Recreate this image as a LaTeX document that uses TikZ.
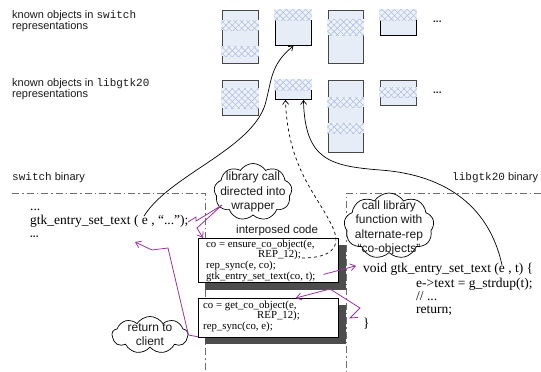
\documentclass[tikz,border=0pt]{standalone}
\usepackage{fontspec}
\setmainfont{Liberation Serif}
\setsansfont{Liberation Sans}
\setmonofont{Liberation Mono}
\usetikzlibrary{shapes.symbols,patterns.meta,arrows.meta}
\definecolor{boxfill}{RGB}{230,237,247}
\definecolor{boxline}{RGB}{70,70,70}
\definecolor{hatchc}{RGB}{175,192,228}
\definecolor{bandfill}{RGB}{238,242,250}
\definecolor{purp}{RGB}{153,51,160}
\definecolor{shadowc}{RGB}{77,77,77}
\definecolor{sepc}{RGB}{110,110,110}
\definecolor{txtc}{RGB}{25,25,25}
\begin{document}
\begin{tikzpicture}[x=1pt,y=-1pt,
 objbox/.style={draw=boxline, fill=boxfill, line width=0.9pt, inner sep=0, anchor=north west, minimum width=36pt},
 band/.style={fill=bandfill,
   postaction={pattern={Lines[angle=45,distance=4.5pt,line width=0.6pt]}, pattern color=hatchc},
   postaction={pattern={Lines[angle=-45,distance=4.5pt,line width=0.6pt]}, pattern color=hatchc}},
 lbl/.style={font=\sffamily\fontsize{11}{12}\selectfont, text=txtc, anchor=base west, inner sep=0},
 codetxt/.style={font=\fontsize{13.5}{15}\selectfont, anchor=base west, inner sep=0},
 smallcode/.style={font=\fontsize{10.8}{11}\selectfont, anchor=base west, inner sep=0},
 cloudshape/.style={cloud, cloud puffs=9, cloud puff arc=115, cloud ignores aspect, draw, fill=white, line width=0.7pt, inner sep=0},
 cloudtxt/.style={font=\sffamily\fontsize{12}{14.3}\selectfont, text=txtc, align=center, inner sep=0},
 sepline/.style={draw=sepc, line width=0.8pt, dash pattern=on 7pt off 3pt on 1.5pt off 3pt},
 codebox/.style={draw, fill=white, line width=0.8pt, anchor=north west, inner sep=0},
 shadowbox/.style={fill=shadowc, anchor=north west, inner sep=0},
 conn/.style={line width=0.7pt, -{Straight Barb[length=4pt,width=6pt]}},
 pline/.style={draw=purp, line width=0.8pt},
 parrow/.style={pline, -{Straight Barb[length=5pt,width=7pt]}},
]
\useasboundingbox (0,0) rectangle (541,372);

% labels
\node[lbl] (l1a) at (12,18) {known objects in \texttt{switch}};
\node[lbl] (l1b) at (12,29) {representations};
\node[lbl] (l2a) at (12,86) {known objects in \texttt{libgtk20}};
\node[lbl] (l2b) at (12,97) {representations};

% object boxes
\node[objbox, minimum height=53pt] (a1) at (222,10) {};
\node[objbox, minimum height=35pt, draw=black] (a2) at (275,10) {};
\node[objbox, minimum height=53pt, minimum width=35pt] (a3) at (328,10) {};
\node[objbox, minimum height=25pt, draw=black] (a4) at (380,10) {};
\node[objbox, minimum height=35pt] (b1) at (222,80) {};
\node[objbox, minimum height=19pt, draw=black] (b2) at (275,80) {};
\node[objbox, minimum height=72pt, minimum width=35pt] (b3) at (328,80) {};
\node[objbox, minimum height=25pt] (b4) at (380,80) {};

% hatched bands
\fill[band] (221.3,20) rectangle (258.7,30);
\fill[band] (221.3,46) rectangle (258.7,56);
\fill[band] (274.3,9.3) rectangle (311.7,20);
\fill[band] (327.3,19) rectangle (363.7,35);
\fill[band] (379.3,9.3) rectangle (416.7,20);
\fill[band] (221.3,88) rectangle (258.7,108);
\fill[band] (274.3,79.3) rectangle (311.7,90);
\fill[band] (327.3,97) rectangle (363.7,107);
\fill[band] (327.3,123) rectangle (363.7,133);
\fill[band] (379.3,87) rectangle (416.7,97);

\node[lbl, font=\sffamily\bfseries\fontsize{10}{12}\selectfont] (d1) at (433,23) {...};
\node[lbl, font=\sffamily\bfseries\fontsize{10}{12}\selectfont] (d2) at (433,93) {...};

% section labels and separators
\node[lbl] (swb) at (12,180) {\texttt{switch} binary};
\node[lbl] (gtb) at (452,180) {\texttt{libgtk20} binary};
\draw[sepline] (12,193) -- (205,193) -- (205,372);
\draw[sepline] (541,193) -- (346,193) -- (346,372);

% interposed code boxes
\node[lbl, font=\sffamily\fontsize{11.5}{12}\selectfont] (ipc) at (236,233) {interposed code};
\node[shadowbox, minimum width=141pt, minimum height=45pt] (sh1) at (205,245) {};
\node[codebox, minimum width=140pt, minimum height=44pt] (cb1) at (198,238) {};
\node[shadowbox, minimum width=141pt, minimum height=39pt] (sh2) at (205,305) {};
\node[codebox, minimum width=140pt, minimum height=39pt] (cb2) at (198,298) {};

\node[smallcode] (t11) at (206,247) {co = ensure\_co\_object(e,};
\node[smallcode] (t12) at (258,257) {REP\_12);};
\node[smallcode] (t13) at (206,268) {rep\_sync(e, co);};
\node[smallcode] (t14) at (206,279) {gtk\_entry\_set\_text(co, t);};
\node[smallcode] (t21) at (203,308) {co = get\_co\_object(e,};
\node[smallcode] (t22) at (257,318) {REP\_12);};
\node[smallcode] (t23) at (203,329) {rep\_sync(co, e);};

% client code
\node[codetxt] (lc1) at (30,210) {...};
\node[codetxt] (lc2) at (30,224) {gtk\_entry\_set\_text ( e , “...”);};
\node[lbl, font=\sffamily\bfseries\fontsize{10}{12}\selectfont] (lc3) at (30,237) {...};

% library code
\node[codetxt] (rc1) at (363,272) {void gtk\_entry\_set\_text (e , t) \{};
\node[codetxt] (rc2) at (416,287) {e->text = g\_strdup(t);};
\node[codetxt] (rc3) at (416,300) {// ...};
\node[codetxt] (rc4) at (416,313) {return;};
\node[codetxt] (rc5) at (363,327) {\}};

% clouds
\node[cloudshape, minimum width=78pt, minimum height=57pt] (cl1) at (253,192) {};
\node[cloudtxt] (cl1t) at (253,192) {library call\\directed into\\wrapper};
\node[cloudshape, minimum width=90pt, minimum height=66pt] (cl2) at (389,226) {};
\node[cloudtxt] (cl2t) at (389,228) {call library\\function with\\alternate-rep\\“co-objects”};
\node[cloudshape, minimum width=76pt, minimum height=37pt] (cl3) at (150,335) {};
\node[cloudtxt] (cl3t) at (150,335) {return to\\client};

% black connectors
\coordinate (le) at (144,216);
\draw[conn] (le) .. controls (170,175) and (250,150) .. (265,105) .. controls (272,80) and (270,65) .. (a2.south);
\coordinate (ds) at (302,258);
\draw[conn, dashed] (ds) .. controls (330,258) and (342,248) .. (333,228) .. controls (318,195) and (288,170) .. ([xshift=-8pt]b2.south);
\coordinate (re) at (502,265);
\draw[conn] (re) .. controls (490,210) and (450,175) .. (380,170) .. controls (330,166) and (305,160) .. ([xshift=10pt]b2.south);

% purple connectors
\coordinate (p1s) at (188,222);
\coordinate (cl1tip) at (222,205);
\draw[parrow] (p1s) -- (196,217) -- (196,221) -- (206,215) -- (cl1tip) -- (197,228) -- ([xshift=5pt]cb1.north west);
\draw[parrow] ([xshift=8pt,yshift=2pt]t14.east) -- ([xshift=-7pt,yshift=3pt]rc1.west);
\draw[parrow] ([xshift=-5pt]rc5.north west) -- (350,318) -- (360,308) -- (330,289) -- ([xshift=-43pt]cb2.north east);
\draw[pline] ([yshift=1pt]cb2.south west) -- (cl3.east);
\draw[parrow] (cl3.east) -- (168,248) -- (152,250) -- (135,242);
\end{tikzpicture}
\end{document}
